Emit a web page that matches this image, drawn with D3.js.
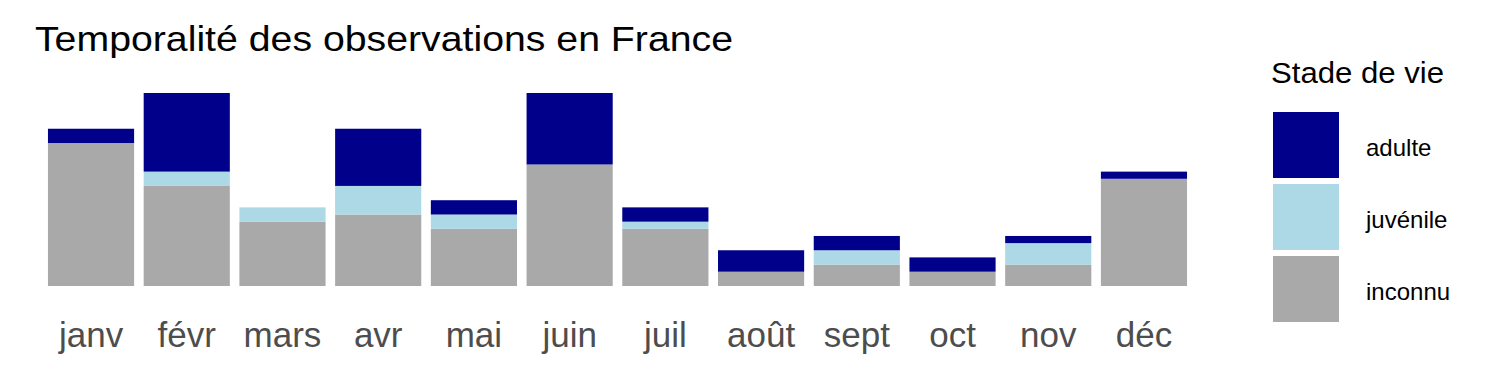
<!DOCTYPE html>
<html lang="fr">
<head>
  <meta charset="utf-8">
  <title>Temporalité des observations en France</title>
  <style>
    body { margin: 0; background: #fff; }
    text { font-family: "Liberation Sans", Arial, sans-serif; }
  </style>
</head>
<body>
  <script src="https://d3js.org/d3.v7.min.js"></script>
  <script>
    var width = 1500;
    var height = 375;

    // months and counts per life stage
    var mois = ["janv", "févr", "mars", "avr", "mai", "juin", "juil", "août", "sept", "oct", "nov", "déc"];
    var stades = ["inconnu", "juvénile", "adulte"];
    var inconnu  = [20, 14, 9, 10, 8, 17, 8, 2, 3, 2, 3, 15];
    var juvenile = [0, 2, 2, 4, 2, 0, 1, 0, 2, 0, 3, 0];
    var adulte   = [2, 11, 0, 8, 2, 10, 2, 3, 2, 2, 1, 1];
    var couleurs = { "adulte": "#00008B", "juvénile": "#ADD8E6", "inconnu": "#A9A9A9" };
    var legendeOrdre = ["adulte", "juvénile", "inconnu"];

    var rows = mois.map(function(m, i) {
      return { mois: m, "inconnu": inconnu[i], "juvénile": juvenile[i], "adulte": adulte[i] };
    });
    var series = d3.stack().keys(stades)(rows);

    var svg = d3.select("body").append("svg")
      .attr("width", width)
      .attr("height", height);

    // panel
    var x = d3.scaleBand()
      .domain(mois)
      .range([33.6, 1201.4])
      .paddingInner(0.1)
      .paddingOuter(0.15);

    var y = d3.scaleLinear()
      .domain([0, 27])
      .range([286, 93]);

    svg.append("g")
      .selectAll("g")
      .data(series)
      .join("g")
        .attr("fill", function(d) { return couleurs[d.key]; })
      .selectAll("rect")
      .data(function(d) { return d; })
      .join("rect")
        .attr("x", function(d) { return x(d.data.mois); })
        .attr("y", function(d) { return y(d[1]); })
        .attr("width", x.bandwidth())
        .attr("height", function(d) { return y(d[0]) - y(d[1]); });

    // x axis, labels only
    var xAxis = svg.append("g")
      .attr("transform", "translate(0,286)")
      .call(d3.axisBottom(x).tickSize(0).tickPadding(0));
    xAxis.select(".domain").remove();
    xAxis.selectAll("text")
      .attr("dy", 0)
      .attr("y", 61)
      .attr("fill", "#4D4D4D")
      .style("font-size", "35px");

    // title
    svg.append("text")
      .attr("x", 35)
      .attr("y", 51)
      .attr("fill", "#000")
      .attr("textLength", 698)
      .attr("lengthAdjust", "spacingAndGlyphs")
      .style("font-size", "35px")
      .text("Temporalité des observations en France");

    // legend
    var legend = svg.append("g");
    legend.append("text")
      .attr("x", 1271)
      .attr("y", 83)
      .attr("textLength", 173)
      .attr("lengthAdjust", "spacingAndGlyphs")
      .style("font-size", "29px")
      .text("Stade de vie");

    var key = 66, gap = 6;
    var items = legend.selectAll("g.item")
      .data(legendeOrdre)
      .join("g")
        .attr("class", "item")
        .attr("transform", function(d, i) { return "translate(1273," + (112 + i * (key + gap)) + ")"; });
    items.append("rect")
      .attr("width", key)
      .attr("height", key)
      .attr("fill", function(d) { return couleurs[d]; });
    items.append("text")
      .attr("x", 93)
      .attr("y", 44)
      .style("font-size", "24px")
      .text(function(d) { return d; });
  </script>
</body>
</html>
